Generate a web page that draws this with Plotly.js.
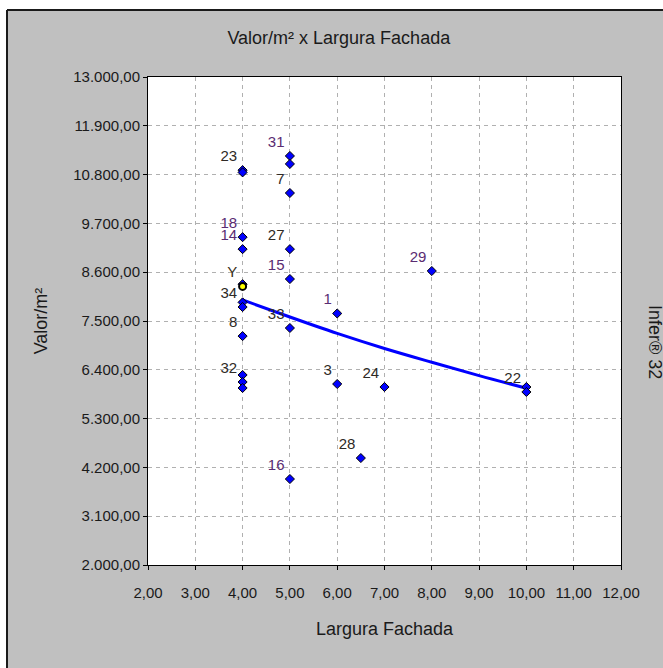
<!DOCTYPE html>
<html>
<head>
<meta charset="utf-8">
<script src="https://cdn.plot.ly/plotly-3.0.1.min.js"></script>
<style>html,body{margin:0;padding:0;background:#fff;}#chart{width:663px;height:668px;}</style>
</head>
<body>
<div id="chart"></div>
<script>
// Sample points: Largura Fachada (x) and Valor/m² (y)
var pointX = [4, 4, 5, 5, 5, 4, 4, 5, 5, 4, 4, 4, 4, 5, 4, 4, 4, 6, 6, 7, 8, 10, 10, 6.5, 5];
var pointY = [10900, 10850, 11220, 11040, 10385, 9390, 9120, 9120, 8446, 8330, 7920, 7815, 7160, 7342, 6283, 6125, 5990, 7670, 6080, 6012, 8627, 6012, 5900, 4411, 3938];
var pointLabels = ["23", "", "31", "", "7", "18", "14", "27", "15", "", "", "34", "8", "33", "", "32", "", "1", "3", "24", "29", "", "22", "28", "16"];

// Point being estimated
var targetX = [4];
var targetY = [8280];
var targetLabel = ["Y"];

// Fitted curve
var curveX = [4, 5, 6, 7, 8, 9, 10];
var curveY = [7975, 7590, 7220, 6880, 6570, 6270, 5985];

// Axis ticks
var xTicks = [2, 3, 4, 5, 6, 7, 8, 9, 10, 11, 12];
var yTicks = [2000, 3100, 4200, 5300, 6400, 7500, 8600, 9700, 10800, 11900, 13000];

var purple = "#5a2c72", dark = "#2e2a25";
var labelColors = pointLabels.map(function (l) {
  return ["31", "18", "14", "15", "16", "1", "29"].indexOf(l) >= 0 ? purple : dark;
});

var traces = [
  {
    x: curveX, y: curveY, type: "scatter", mode: "lines",
    line: {color: "#0000ff", width: 3, shape: "spline"},
    hoverinfo: "skip", showlegend: false
  },
  {
    x: pointX, y: pointY, text: pointLabels, type: "scatter", mode: "markers+text",
    textposition: "top left",
    textfont: {family: "Liberation Sans, Arial, sans-serif", size: 15, color: labelColors},
    marker: {symbol: "diamond", size: 7, color: "#0000ff", line: {color: "#000000", width: 1}},
    showlegend: false
  },
  {
    x: targetX, y: targetY, text: targetLabel, type: "scatter", mode: "markers+text",
    textposition: "top left",
    textfont: {family: "Liberation Sans, Arial, sans-serif", size: 15, color: "#3a3020"},
    marker: {symbol: "circle", size: 7, color: "#ffff00", line: {color: "#000000", width: 2}},
    showlegend: false
  }
];

var tickFont = {family: "Liberation Sans, Arial, sans-serif", size: 15, color: "#1a1a1a"};
var titleFont = {family: "Liberation Sans, Arial, sans-serif", size: 18, color: "#1a1a1a"};

var layout = {
  width: 663, height: 668,
  margin: {l: 148, r: 42, t: 77, b: 103},
  paper_bgcolor: "#c0c0c0",
  plot_bgcolor: "#ffffff",
  separators: ",.",
  showlegend: false,
  title: {
    text: "Valor/m² x Largura Fachada",
    font: titleFont,
    xref: "container", x: 0.511, xanchor: "center",
    yref: "container", y: 0.943, yanchor: "middle"
  },
  xaxis: {
    range: [2, 12], tickvals: xTicks, tickformat: ",.2f",
    showline: true, mirror: true, linecolor: "#000", linewidth: 1,
    ticks: "outside", ticklen: 4, tickcolor: "#000",
    ticklabelstandoff: 10,
    showgrid: true, gridcolor: "#b0b0b0", griddash: "4px,4px", gridwidth: 1,
    zeroline: false, tickfont: tickFont,
    title: {text: "Largura Fachada", font: titleFont, standoff: 22}
  },
  yaxis: {
    range: [2000, 13000], tickvals: yTicks, tickformat: ",.2f",
    showline: true, mirror: true, linecolor: "#000", linewidth: 1,
    ticks: "outside", ticklen: 4, tickcolor: "#000",
    showgrid: true, gridcolor: "#b0b0b0", griddash: "4px,4px", gridwidth: 1,
    zeroline: false, tickfont: tickFont,
    title: {text: "Valor/m²", font: titleFont, standoff: 20}
  },
  annotations: [
    {
      text: "Infer® 32", xref: "paper", yref: "paper",
      x: (655 - 148) / 473, y: (565 - 342) / 488,
      xanchor: "center", yanchor: "middle", textangle: 90, showarrow: false,
      font: titleFont
    }
  ],
  shapes: [
    {type: "rect", xref: "paper", yref: "paper", x0: -0.5, x1: 1.5, y0: (565 - 10) / 488, y1: 1.5, fillcolor: "#ffffff", line: {width: 0}, layer: "above"},
    {type: "rect", xref: "paper", yref: "paper", x0: -0.5, x1: (7 - 148) / 473, y0: -0.5, y1: 1.5, fillcolor: "#ffffff", line: {width: 0}, layer: "above"},
    {type: "line", xref: "paper", yref: "paper", x0: (7 - 148) / 473, x1: 1.5, y0: (565 - 10) / 488, y1: (565 - 10) / 488, line: {color: "#1a1a1a", width: 2}},
    {type: "line", xref: "paper", yref: "paper", x0: (7 - 148) / 473, x1: (7 - 148) / 473, y0: -0.5, y1: (565 - 10) / 488, line: {color: "#1a1a1a", width: 2}}
  ]
};

Plotly.newPlot("chart", traces, layout, {staticPlot: true, displayModeBar: false});
</script>
</body>
</html>
